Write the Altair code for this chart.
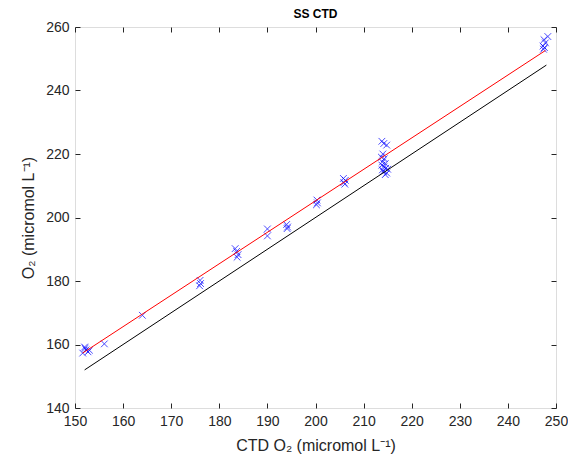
import altair as alt
import pandas as pd

# Scatter data (CTD O2 vs bottle O2)
ctd_o2 = [152.0, 152.7, 151.6, 152.3, 153.0, 152.1, 156.1, 164.0,
          176.0, 176.1, 175.9,
          183.3, 183.6, 183.9, 183.7,
          190.0, 190.0,
          194.0, 194.2, 194.1,
          200.3, 200.4, 200.2,
          205.8, 206.2, 205.9, 206.1,
          213.8, 214.2, 214.8, 214.0, 213.7, 214.3, 213.9, 214.5, 213.8, 214.2,
          214.6, 213.9, 214.1, 214.8, 214.5, 215.0,
          248.3, 247.5, 247.8, 247.3, 247.6, 247.4]
bottle_o2 = [159.2, 157.7, 157.3, 158.3, 158.2, 158.8, 160.2, 169.2,
             180.2, 179.2, 178.5,
             190.2, 189.3, 188.3, 187.5,
             196.4, 194.2,
             197.8, 197.0, 196.5,
             205.5, 204.6, 204.0,
             212.3, 211.7, 211.0, 210.5,
             224.0, 223.3, 222.8, 220.0, 219.0, 218.5, 217.5, 217.0, 216.5, 216.0,
             215.5, 215.0, 214.5, 214.0, 213.5, 215.2,
             257.0, 256.0, 255.0, 254.0, 253.5, 253.0]

# Regression line (red) and 1:1 line (black) end points
fit_x = [151.6, 247.8]
fit_y = [157.3, 252.6]
one_x = [152.0, 248.0]
one_y = [152.0, 248.0]

pts = pd.DataFrame({"x": ctd_o2, "y": bottle_o2})
fit = pd.DataFrame({"x": fit_x, "y": fit_y})
one = pd.DataFrame({"x": one_x, "y": one_y})

FONT = "Liberation Sans"
AX_COLOR = "#262626"
xs = alt.Scale(domain=[150, 250], nice=False, zero=False)
ys = alt.Scale(domain=[140, 260], nice=False, zero=False)
xt = list(range(150, 251, 10))
yt = list(range(140, 261, 20))

common_axis = dict(domain=False, grid=False, tickSize=5, offset=-5,
                   labelFlush=False, labelOverlap=False,
                   tickColor=AX_COLOR, labelColor=AX_COLOR, titleColor=AX_COLOR,
                   labelFont=FONT, titleFont=FONT, labelFontSize=14,
                   titleFontSize=16, titleFontWeight="normal")

x_axis = alt.Axis(values=xt, labelPadding=6, title="CTD O₂ (micromol L⁻¹)",
                  titlePadding=9, **common_axis)
y_axis = alt.Axis(values=yt, labelPadding=6, title="O₂ (micromol L⁻¹)",
                  titlePadding=9, **common_axis)
x_top = alt.Axis(values=xt, orient="top", labels=False, title=None,
                 domain=False, grid=False, tickSize=5, offset=-5, tickColor=AX_COLOR)
y_right = alt.Axis(values=yt, orient="right", labels=False, title=None,
                   domain=False, grid=False, tickSize=5, offset=-5, tickColor=AX_COLOR)

x_shape = "M-1,-1L1,1M-1,1L1,-1"

points = alt.Chart(pts).mark_point(
    shape=x_shape, filled=False, color="#0000FF", strokeWidth=1, size=45
).encode(
    x=alt.X("x:Q", scale=xs, axis=x_axis),
    y=alt.Y("y:Q", scale=ys, axis=y_axis),
)

black = alt.Chart(one).mark_line(color="#000000", strokeWidth=1).encode(
    x=alt.X("x:Q", scale=xs, axis=x_top),
    y=alt.Y("y:Q", scale=ys, axis=y_right),
)

red = alt.Chart(fit).mark_line(color="#FF0000", strokeWidth=1).encode(
    x=alt.X("x:Q", scale=xs, axis=None),
    y=alt.Y("y:Q", scale=ys, axis=None),
)

chart = alt.layer(points, black, red).resolve_axis(
    x="independent", y="independent"
).properties(
    width=481, height=381,
    title=alt.TitleParams("SS CTD", font=FONT, fontSize=12, fontWeight="bold",
                          color="#000000", anchor="middle", offset=-1),
    autosize=alt.AutoSizeParams(type="none"),
    padding={"left": 67, "top": 19, "right": 12, "bottom": 48},
).configure_view(
    stroke="#4d4d4d", strokeWidth=1
).configure(background="white")

chart.save("out.html", embed_options={"renderer": "svg", "actions": False})
